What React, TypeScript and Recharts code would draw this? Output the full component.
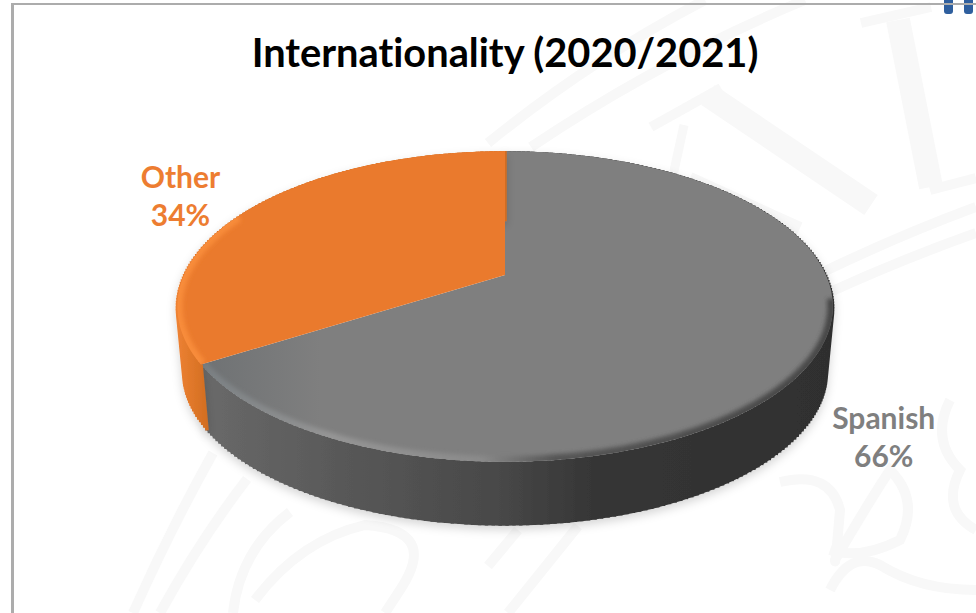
import React from 'react';
import { PieChart, Pie, Cell } from 'recharts';

const categories = ['Spanish', 'Other'];
const shares = [66, 34];
const colors = ['#7f7f7f', '#ea7a2d'];
const labelColors = ['#7f7f7f', '#ed7d31'];

const rows = categories.map((name, i) => ({ name, value: shares[i] }));

const FONT = 'Lato, "Open Sans", sans-serif';

// the tilt of the disc: a circle seen in perspective, so the apex is not in the middle of the ellipse
const TILT_C = 0.2026;
const TILT_B = 0.464;
const DEPTH = 67;
const BOTTOM_SCALE = 0.98;

const project = (cx: number, cy: number, r: number, deg: number, m = 1) => {
  const a = (deg * Math.PI) / 180;
  const u = Math.cos(a) * m;
  const v = Math.sin(a) * m;
  const d = 1 + TILT_C * v;
  return [cx + (r * u) / d, cy - (r * TILT_B * v) / d];
};

const arcPoints = (cx: number, cy: number, r: number, from: number, to: number) => {
  const n = Math.ceil(Math.abs(to - from));
  const pts: number[][] = [];
  for (let i = 0; i <= n; i++) pts.push(project(cx, cy, r, from + ((to - from) * i) / n));
  return pts;
};

const toPath = (pts: number[][]) =>
  pts.map((p, i) => `${i ? 'L' : 'M'}${p[0].toFixed(1)} ${p[1].toFixed(1)}`).join(' ');

const DiscSlice = (props: any) => {
  const { cx, cy, outerRadius, startAngle, endAngle, index } = props;
  const rim = arcPoints(cx, cy, outerRadius, startAngle, endAngle);
  const ellipseY = cy + outerRadius * 0.0965;
  const lower = rim.map((p) => [
    cx + (p[0] - cx) * BOTTOM_SCALE,
    ellipseY + (p[1] - ellipseY) * BOTTOM_SCALE + DEPTH,
  ]);
  const spanish = index === 0;
  const wallFill = spanish ? 'url(#wallGrey)' : 'url(#wallOrange)';
  // the rim, kept to the front of the disc
  const bevel = rim
    .filter((p) => p[1] > ellipseY - (spanish ? 10 : 90))
    .map((p) => [cx + (p[0] - cx) * 0.997, ellipseY + (p[1] - ellipseY) * 0.993]);
  const clipId = `topFace${index}`;
  const topPath = toPath([[cx, cy], ...rim]) + ' Z';
  return (
    <g>
      <g filter="url(#softShadow)">
        <path d={toPath([...rim, ...[...lower].reverse()]) + ' Z'} fill={wallFill} />
        <path
          d={rim.map((p, i) => toPath([p, lower[i]])).join(' ')}
          fill="none"
          stroke={wallFill}
          strokeWidth={3.5}
        />
      </g>
      <path d={topPath} fill={spanish ? 'url(#topGrey)' : colors[index]} />
      <clipPath id={clipId}>
        <path d={topPath} />
      </clipPath>
      <g clipPath={`url(#${clipId})`}>
        <path
          d={toPath(bevel)}
          fill="none"
          stroke={spanish ? 'url(#bevelGrey)' : '#f88c3a'}
          strokeWidth={9}
          filter="url(#bevelBlur)"
        />
      </g>
    </g>
  );
};

const SliceLabel = (props: any) => {
  const { cx, cy, outerRadius, midAngle, index } = props;
  const lowerHalf = Math.sin((midAngle * Math.PI) / 180) < 0;
  const [x, y] = project(cx, cy, outerRadius, midAngle, lowerHalf ? 1.19 : 1.3);
  const top = y + (lowerHalf ? 66 : 5);
  return (
    <text
      x={x}
      y={top}
      textAnchor="middle"
      fontFamily={FONT}
      fontSize={30}
      fontWeight={700}
      fill={labelColors[index]}
      style={{ fontVariantLigatures: 'none' }}
    >
      <tspan x={x} dy={-9}>{categories[index]}</tspan>
      <tspan x={x} dy={38}>{`${shares[index]}%`}</tspan>
    </text>
  );
};

// faint crest printed behind the chart
const Watermark = () => (
  <svg width={976} height={613} style={{ position: 'absolute', left: 0, top: 0 }}>
    <g fill="none" stroke="#f8f8f8" strokeWidth={10}>
      <path d="M488 143 Q590 60 705 0" />
      <path d="M531 147 Q660 60 805 0" />
      <path d="M821 273 Q900 235 976 207" />
      <path d="M828 293 Q900 260 976 233" />
      <path d="M133 613 Q170 530 213 453" />
      <path d="M160 613 Q200 540 247 479" />
      <path d="M233 613 Q240 550 290 512" />
      <path d="M255 600 Q300 540 365 525 Q440 530 400 590 L385 613" />
      <path d="M488 566 L518 530" />
      <path d="M508 613 L578 526" />
      <path d="M780 482 Q830 470 840 510 Q835 570 835 560 Q870 500 890 470 Q920 500 900 540 Q860 560 830 550" />
      <path d="M830 590 Q850 550 880 565 Q920 590 976 590" />
      <path d="M950 400 Q930 440 960 470 Q940 510 976 530" />
      <path d="M861 23 L931 7" />
      <path d="M651 127 L721 88" />
      <path d="M930 190 L976 178" />
    </g>
    <g fill="none" stroke="#f8f8f8" strokeWidth={24}>
      <path d="M898 20 L931 187" />
      <path d="M708 95 L871 205" />
    </g>
    <path d="M684 125 L672 180" fill="none" stroke="#f8f8f8" strokeWidth={9} />
    <path d="M690 178 L800 228" fill="none" stroke="#f8f8f8" strokeWidth={12} />
    <rect x={944} y={-6} width={9} height={20} rx={3} fill="#2f5f9e" />
    <rect x={964} y={-6} width={9} height={20} rx={3} fill="#2f5f9e" />
  </svg>
);

export default function App() {
  return (
    <div style={{ position: 'absolute', left: 0, top: 0, width: 976, height: 613, background: '#fff', overflow: 'hidden' }}>
      <Watermark />
      <div
        style={{
          position: 'absolute',
          left: 11,
          top: 3,
          width: 1000,
          height: 640,
          borderLeft: '3px solid #acacac',
          borderTop: '2px solid #acacac',
        }}
      />
      <div style={{ position: 'absolute', left: 0, top: 0 }}>
        <PieChart width={976} height={613} margin={{ top: 0, right: 0, bottom: 0, left: 0 }}>
          <defs>
            <linearGradient id="wallGrey" gradientUnits="userSpaceOnUse" x1="205" y1="0" x2="830" y2="0">
              <stop offset="0" stopColor="#696969" />
              <stop offset="0.25" stopColor="#565656" />
              <stop offset="0.46" stopColor="#494949" />
              <stop offset="0.62" stopColor="#363636" />
              <stop offset="1" stopColor="#2f2f2f" />
            </linearGradient>
            <linearGradient id="wallOrange" gradientUnits="userSpaceOnUse" x1="176" y1="0" x2="210" y2="0">
              <stop offset="0" stopColor="#ee8233" />
              <stop offset="1" stopColor="#d06c20" />
            </linearGradient>
            <linearGradient id="topGrey" gradientUnits="userSpaceOnUse" x1="205" y1="0" x2="320" y2="0">
              <stop offset="0" stopColor="#6f7274" />
              <stop offset="1" stopColor="#7f7f7f" />
            </linearGradient>
            <linearGradient id="bevelGrey" gradientUnits="userSpaceOnUse" x1="205" y1="0" x2="830" y2="0">
              <stop offset="0" stopColor="#7b8083" />
              <stop offset="0.2" stopColor="#959595" />
              <stop offset="0.44" stopColor="#8b8b8b" />
              <stop offset="0.56" stopColor="#555555" />
              <stop offset="1" stopColor="#474747" />
            </linearGradient>
            <filter id="softShadow" filterUnits="userSpaceOnUse" x="120" y="120" width="780" height="450">
              <feDropShadow dx="0" dy="4" stdDeviation="5" floodColor="#000" floodOpacity="0.16" />
            </filter>
            <filter id="bevelBlur" filterUnits="userSpaceOnUse" x="120" y="120" width="780" height="450">
              <feGaussianBlur stdDeviation="2.2" />
            </filter>
          </defs>
          <text
            x={505}
            y={67}
            textAnchor="middle"
            fontFamily={FONT}
            fontSize={39.8}
            fontWeight={700}
            fill="#000"
            style={{ fontVariantLigatures: 'none' }}
          >
            Internationality (2020/2021)
          </text>
          <Pie
            data={rows}
            dataKey="value"
            nameKey="name"
            cx={505}
            cy={275}
            innerRadius={0}
            outerRadius={321}
            startAngle={90}
            endAngle={-270}
            isAnimationActive={false}
            shape={DiscSlice}
            label={SliceLabel}
            labelLine={false}
          >
            {rows.map((row, i) => (
              <Cell key={row.name} fill={colors[i]} />
            ))}
          </Pie>
        </PieChart>
      </div>
    </div>
  );
}
